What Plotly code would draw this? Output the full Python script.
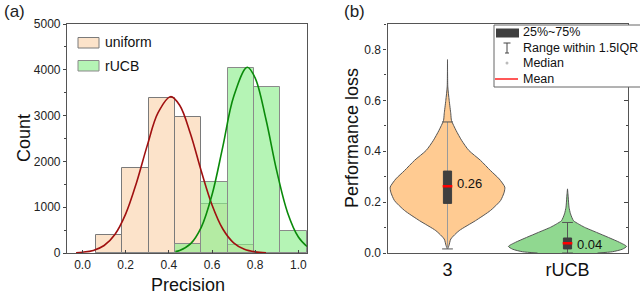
import plotly.graph_objects as go

# ---------------- data: panel (a) ----------------
bin_centers = [0.1235, 0.2455, 0.3675, 0.4895, 0.6115, 0.7335, 0.8555, 0.9775]
bin_width = 0.122
uniform_counts = [400, 1865, 3395, 2960, 1075, 178, 0, 0]
rucb_counts = [0, 0, 0, 200, 1550, 4045, 3630, 490]

uniform_fit_x = [-0.03, 0.0, 0.05, 0.1, 0.15, 0.2, 0.25, 0.3, 0.35, 0.408, 0.45, 0.5,
                 0.55, 0.6, 0.65, 0.7, 0.75, 0.8, 0.85]
uniform_fit_y = [7, 17, 57, 164, 405, 855, 1535, 2350, 3065, 3413, 3226, 2603,
                 1791, 1049, 524, 223, 81, 25, 7]
rucb_fit_x = [0.43, 0.45, 0.5, 0.55, 0.6, 0.65, 0.7, 0.763, 0.8, 0.85, 0.9, 0.95, 1.0, 1.04]
rucb_fit_y = [32, 56, 198, 559, 1271, 2322, 3410, 4055, 3820, 2914, 1787, 881, 349, 142]

# ---------------- data: panel (b) ----------------
categories = ["3", "rUCB"]
cat_pos = [1, 2]
v1_y = [0.016, 0.03, 0.055, 0.088, 0.127, 0.167, 0.206, 0.239, 0.259, 0.291, 0.324,
        0.364, 0.403, 0.443, 0.482, 0.521, 0.547, 0.6, 0.653, 0.76]
v1_hw = [0.0, 0.0125, 0.0275, 0.0975, 0.233, 0.358, 0.442, 0.4725, 0.4775, 0.431, 0.358,
         0.275, 0.178, 0.117, 0.071, 0.033, 0.0275, 0.014, 0.0025, 0.0]
v2_y = [0.0, 0.005, 0.015, 0.026, 0.042, 0.061, 0.081, 0.101, 0.114, 0.127, 0.154,
        0.18, 0.22, 0.252]
v2_hw = [0.25, 0.375, 0.458, 0.492, 0.433, 0.342, 0.242, 0.142, 0.092, 0.05, 0.025,
         0.0125, 0.006, 0.0]
q1 = [0.195, 0.016]
q3 = [0.322, 0.059]
means = [0.262, 0.038]
mean_labels = ["0.26", "0.04"]
whisk_lo = [0.016, 0.0]
whisk_hi = [0.515, 0.12]

FONT = "Liberation Sans, Arial, sans-serif"
W, H = 640, 298

def px(x):
    return x / W

def py(y):
    return 1 - y / H

fig = go.Figure()

# ---- panel (a) bars
fig.add_trace(go.Bar(x=bin_centers, y=uniform_counts, width=bin_width,
                     marker=dict(color="#FCE3CA", line=dict(color="#7a7a7a", width=1)),
                     xaxis="x", yaxis="y", showlegend=False))
fig.add_trace(go.Bar(x=bin_centers, y=rucb_counts, width=bin_width,
                     marker=dict(color="rgba(144,238,144,0.667)", line=dict(color="#8a8a8a", width=1)),
                     xaxis="x", yaxis="y", showlegend=False))
fig.add_trace(go.Scatter(x=uniform_fit_x, y=uniform_fit_y, mode="lines",
                         line=dict(color="#A01010", width=1.6, shape="spline"),
                         xaxis="x", yaxis="y", showlegend=False))
fig.add_trace(go.Scatter(x=rucb_fit_x, y=rucb_fit_y, mode="lines",
                         line=dict(color="#0A8A0A", width=1.6, shape="spline"),
                         xaxis="x", yaxis="y", showlegend=False))

# ---- panel (b) violins
vcolors = ["#FFCB92", "#90D890"]
for c, ys, hw in [(cat_pos[0], v1_y, v1_hw), (cat_pos[1], v2_y, v2_hw)]:
    xs = [c - h for h in hw] + [c + h for h in reversed(hw)]
    yy = list(ys) + list(reversed(ys))
    fig.add_trace(go.Scatter(x=xs, y=yy, mode="lines", fill="toself",
                             fillcolor=vcolors[cat_pos.index(c)],
                             line=dict(color="#555555", width=1, shape="spline", smoothing=0.6),
                             xaxis="x2", yaxis="y2", showlegend=False, hoverinfo="skip"))

cap = 0.045
for i, c in enumerate(cat_pos):
    wcol = "#9a9a9a" if i == 0 else "#555555"
    fig.add_trace(go.Scatter(x=[c, c], y=[whisk_lo[i], whisk_hi[i]], mode="lines",
                             line=dict(color=wcol, width=1), xaxis="x2", yaxis="y2",
                             showlegend=False))
    for yv in (whisk_lo[i], whisk_hi[i]):
        fig.add_trace(go.Scatter(x=[c - cap, c + cap], y=[yv, yv], mode="lines",
                                 line=dict(color="#555555", width=1), xaxis="x2", yaxis="y2",
                                 showlegend=False))
    bw = 0.034
    fig.add_trace(go.Scatter(x=[c - bw, c + bw, c + bw, c - bw, c - bw],
                             y=[q1[i], q1[i], q3[i], q3[i], q1[i]], mode="lines",
                             fill="toself", fillcolor="#3f3f3f",
                             line=dict(color="#3f3f3f", width=1), xaxis="x2", yaxis="y2",
                             showlegend=False))
    mw = 0.04
    fig.add_trace(go.Scatter(x=[c - mw, c + mw], y=[means[i], means[i]], mode="lines",
                             line=dict(color="#FF0000", width=2.5), xaxis="x2", yaxis="y2",
                             showlegend=False))

# invisible trace so that the right-hand (inward tick) axis of panel (b) is drawn
fig.add_trace(go.Scatter(x=[cat_pos[0]], y=[means[0]], mode="markers",
                         marker=dict(opacity=0), xaxis="x2", yaxis="y3",
                         showlegend=False, hoverinfo="skip"))

annotations = []
for i, c in enumerate(cat_pos):
    annotations.append(dict(x=c + 0.065, y=means[i] + (0.012 if i == 0 else -0.005),
                            xref="x2", yref="y2", text=mean_labels[i],
                            showarrow=False, xanchor="left", yanchor="middle",
                            font=dict(family=FONT, size=13, color="#111")))

def ann(x, y, text, size, xanchor="center", angle=0, color="#111"):
    return dict(x=px(x), y=py(y), xref="paper", yref="paper", text=text, showarrow=False,
                xanchor=xanchor, yanchor="middle", textangle=angle,
                font=dict(family=FONT, size=size, color=color))

annotations += [
    ann(2, 12, "(a)", 17, "left", color="#222"),
    ann(342, 12, "(b)", 17, "left", color="#222"),
    ann(24, 138, "Count", 18, angle=-90),
    ann(188, 285, "Precision", 18),
    ann(352, 138, "Performance loss", 18, angle=-90),
    ann(103, 42.5, "uniform", 14, "left"),
    ann(103, 66, "rUCB", 14, "left"),
]
for t, yc in [("25%~75%", 32.5), ("Range within 1.5IQR", 48), ("Median", 63), ("Mean", 78.5)]:
    annotations.append(ann(521, yc, t, 12.5, "left"))

shapes = [
    dict(type="rect", xref="paper", yref="paper", x0=px(78), x1=px(99), y0=py(48), y1=py(37.5),
         fillcolor="#FCE3CA", line=dict(color="#7a7a7a", width=1)),
    dict(type="rect", xref="paper", yref="paper", x0=px(78), x1=px(99), y0=py(71), y1=py(60.5),
         fillcolor="#B5F4B5", line=dict(color="#8a8a8a", width=1)),
    dict(type="rect", xref="paper", yref="paper", x0=px(494), x1=px(642), y0=py(87), y1=py(25),
         fillcolor="white", line=dict(color="#666666", width=1), layer="above"),
]
legend_marks = [
    dict(type="rect", xref="paper", yref="paper", x0=px(496), x1=px(519), y0=py(37.5), y1=py(28.5),
         fillcolor="#3f3f3f", line=dict(width=0)),
    dict(type="line", xref="paper", yref="paper", x0=px(507), x1=px(507), y0=py(53), y1=py(43),
         line=dict(color="#444", width=1)),
    dict(type="line", xref="paper", yref="paper", x0=px(503.5), x1=px(510.5), y0=py(43), y1=py(43),
         line=dict(color="#444", width=1)),
    dict(type="line", xref="paper", yref="paper", x0=px(505), x1=px(509), y0=py(53), y1=py(53),
         line=dict(color="#444", width=1)),
    dict(type="circle", xref="paper", yref="paper", x0=px(505.5), x1=px(508.5), y0=py(64.5), y1=py(61.5),
         fillcolor="#bbbbbb", line=dict(width=0)),
    dict(type="line", xref="paper", yref="paper", x0=px(495), x1=px(518), y0=py(79), y1=py(79),
         line=dict(color="#FF2020", width=1.5)),
]
for s in legend_marks:
    s["layer"] = "above"
shapes += legend_marks

axis_common = dict(showgrid=False, zeroline=False, showline=True, linecolor="#555555",
                   linewidth=1.2, mirror=True, ticks="outside", ticklen=3, tickwidth=1,
                   tickcolor="#444", automargin=False,
                   tickfont=dict(family=FONT, size=12, color="#222"))
x_common = {k: v for k, v in axis_common.items() if k not in ("ticks", "ticklen")}

fig.update_layout(
    width=W, height=H, margin=dict(l=0, r=0, t=0, b=0, autoexpand=False),
    paper_bgcolor="white", plot_bgcolor="white", barmode="overlay", bargap=0,
    xaxis=dict(domain=[px(67), px(307)], range=[-0.072, 1.04], dtick=0.2, tick0=0,
               tickformat=".1f", anchor="y", ticks="inside", ticklen=3, **x_common),
    yaxis=dict(domain=[py(253), py(24)], range=[0, 5000], dtick=1000, anchor="x",
               minor=dict(dtick=500, ticks="outside", ticklen=2, tickcolor="#444"),
               **axis_common),
    xaxis2=dict(domain=[px(387.5), px(627.5)], range=[0.5, 2.5], tickvals=cat_pos,
                ticktext=categories, anchor="y2",
                **{k: v for k, v in x_common.items() if k != "tickfont"},
                ticks="", tickfont=dict(family=FONT, size=18, color="#111")),
    yaxis2=dict(domain=[py(253), py(24)], range=[0, 0.9], dtick=0.2, tickformat=".1f",
                anchor="x2", minor=dict(dtick=0.1, ticks="outside", ticklen=2, tickcolor="#444"),
                **axis_common),
    yaxis3=dict(overlaying="y2", side="right", anchor="x2", range=[0, 0.9], dtick=0.2,
                showgrid=False, zeroline=False, showline=False, showticklabels=False,
                ticks="inside", ticklen=4, tickcolor="#444", automargin=False,
                minor=dict(dtick=0.1, ticks="inside", ticklen=2, tickcolor="#444")),
    annotations=annotations, shapes=shapes,
)

fig.write_html("out.html", config={"displayModeBar": False},
               post_script="document.body.style.margin='0';document.body.style.padding='0';")
